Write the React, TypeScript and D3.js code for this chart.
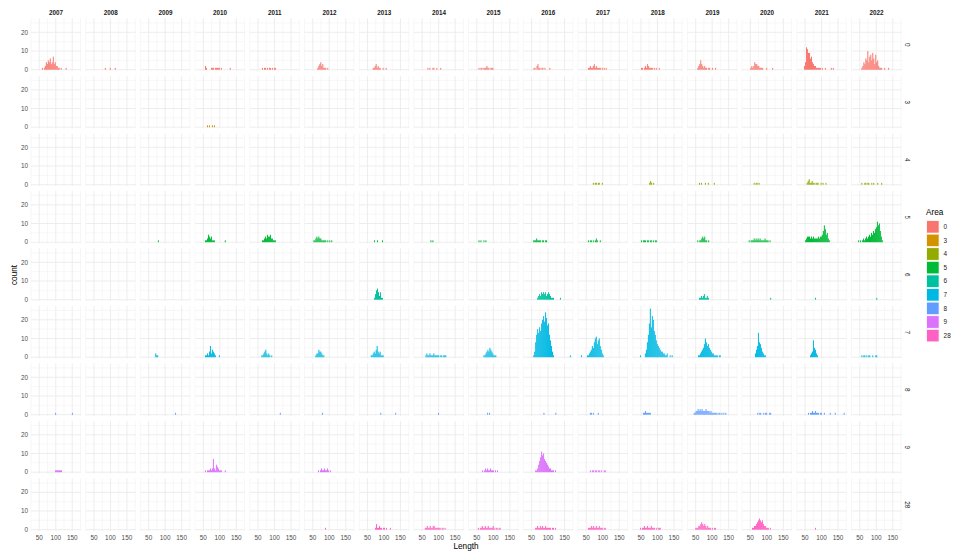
import React from 'react';
import * as d3 from 'd3';

// facet layout: years across, areas down
const years = [2007, 2008, 2009, 2010, 2011, 2012, 2013, 2014, 2015, 2016, 2017, 2018, 2019, 2020, 2021, 2022];
const areas = ['0', '3', '4', '5', '6', '7', '8', '9', '28'];
const areaColors = ['#F8766D', '#D39200', '#93AA00', '#00BA38', '#00C19F', '#00B9E3', '#619CFF', '#DB72FB', '#FF61C3'];

const xTicks = [50, 100, 150];
const xMinor = [25, 75, 125, 175];
const yTicks = [0, 10, 20];
const yMinor = [5, 15, 25];

const binWidth = 3;

// [year, first bin start (Length), counts per bin]
type PanelBins = [number, number, number[]];

const area0Bins: PanelBins[] = [
  [2007, 58, [1, 0, 1, 2, 4, 3, 5, 4, 6, 3, 4, 7, 3, 4, 2, 2, 1, 1, 0, 1, 0, 0, 0, 0, 1]],
  [2008, 83, [1, 0, 0, 0, 0, 1, 0, 0, 0, 0, 1]],
  [2010, 55, [2, 1, 0, 0, 0, 0, 1, 1, 1, 0, 1, 1, 1, 1, 1, 0, 1, 0, 0, 0, 0, 0, 0, 0, 0, 1]],
  [2011, 62, [1, 0, 1, 1, 0, 1, 0, 1, 1, 0, 1, 0, 1, 1]],
  [2012, 64, [1, 2, 3, 4, 2, 3, 1, 1, 1, 0, 1]],
  [2013, 66, [1, 1, 2, 3, 1, 2, 1, 1, 0, 0, 1, 0, 0, 1]],
  [2014, 66, [1, 0, 1, 0, 0, 1, 1, 0, 0, 1, 0, 0, 0, 1]],
  [2015, 55, [1, 0, 1, 1, 0, 1, 1, 1, 2, 1, 1, 0, 1, 1, 1]],
  [2016, 56, [1, 1, 0, 2, 3, 1, 1, 0, 1, 1, 0, 1, 0, 0, 0, 0, 1]],
  [2017, 55, [1, 1, 2, 1, 1, 2, 3, 1, 2, 1, 1, 1, 1, 0, 1, 0, 1, 0, 1]],
  [2018, 50, [1, 1, 0, 1, 2, 1, 3, 2, 1, 1, 1, 1, 0, 1, 0, 1, 0, 0, 1]],
  [2019, 55, [1, 2, 3, 5, 3, 2, 1, 2, 1, 1, 0, 1, 1, 0, 0, 1, 0, 0, 1]],
  [2020, 50, [1, 2, 1, 2, 4, 3, 3, 2, 2, 1, 1, 1, 1, 0, 0, 0, 1, 0, 0, 0, 0, 0, 1]],
  [2021, 47, [2, 4, 12, 11, 9, 9, 6, 7, 4, 3, 2, 2, 1, 1, 1, 1, 1, 0, 1, 0, 0, 1, 0, 0, 0, 0, 0, 1, 0, 1]],
  [2022, 55, [1, 2, 4, 3, 6, 5, 10, 4, 7, 8, 5, 9, 6, 3, 8, 4, 5, 2, 1, 1, 1, 0, 0, 1, 0, 0, 0, 1]],
];

const area3Bins: PanelBins[] = [
  [2010, 61, [1, 0, 1, 0, 0, 1, 0, 1]],
];

const area4Bins: PanelBins[] = [
  [2017, 70, [1, 0, 1, 1, 0, 1, 1, 0, 0, 1]],
  [2018, 75, [1, 2, 1, 0, 1]],
  [2019, 60, [1, 0, 1, 0, 0, 0, 1, 0, 0, 1, 0, 0, 0, 0, 0, 1]],
  [2020, 60, [1, 0, 1, 1, 0, 1]],
  [2021, 55, [1, 2, 3, 1, 1, 2, 1, 1, 0, 1, 1, 1, 0, 0, 1, 0, 1, 0, 0, 1]],
  [2022, 55, [1, 0, 0, 1, 1, 0, 1, 1, 0, 0, 1, 0, 1, 0, 0, 0, 1, 0, 0, 0, 1]],
];

const area5Bins: PanelBins[] = [
  [2009, 78, [1]],
  [2010, 55, [1, 1, 2, 4, 3, 2, 3, 1, 1, 1, 0, 0, 0, 0, 0, 0, 0, 0, 0, 0, 1]],
  [2011, 62, [1, 1, 2, 3, 2, 4, 3, 3, 4, 2, 2, 1, 1, 1]],
  [2012, 52, [1, 1, 2, 3, 2, 3, 2, 2, 1, 1, 1, 1, 1, 0, 1, 0, 1, 0, 1]],
  [2013, 70, [1, 0, 0, 1, 0, 0, 0, 0, 1]],
  [2014, 75, [1, 0, 1]],
  [2015, 55, [1, 0, 1, 0, 0, 1, 0, 1]],
  [2016, 55, [1, 1, 1, 2, 1, 1, 1, 1, 0, 1, 1, 0, 1, 1]],
  [2017, 55, [1, 0, 1, 1, 0, 1, 0, 1, 2, 1, 0, 0, 1]],
  [2018, 50, [1, 0, 1, 1, 1, 0, 1, 1, 0, 1, 1, 0, 1, 0, 1, 1]],
  [2019, 55, [1, 0, 1, 1, 2, 3, 2, 3, 1, 1, 0, 1]],
  [2020, 45, [1, 0, 1, 1, 1, 2, 1, 2, 1, 2, 1, 2, 1, 1, 1, 1, 2, 1, 1, 1, 0, 1]],
  [2021, 50, [1, 2, 3, 3, 3, 2, 3, 2, 3, 2, 2, 2, 2, 3, 2, 3, 3, 4, 6, 9, 7, 4, 5, 2, 1]],
  [2022, 45, [1, 0, 1, 0, 1, 2, 1, 2, 3, 2, 3, 4, 3, 5, 4, 6, 5, 7, 8, 11, 9, 10, 6, 3, 1]],
];

const area6Bins: PanelBins[] = [
  [2013, 70, [1, 3, 5, 6, 4, 2, 4, 1, 1]],
  [2016, 67, [1, 2, 3, 2, 4, 3, 4, 3, 4, 2, 3, 4, 3, 2, 1, 1, 1, 0, 0, 0, 0, 0, 0, 1]],
  [2019, 60, [1, 1, 2, 1, 2, 3, 1, 1, 2, 1]],
  [2020, 110, [1]],
  [2021, 80, [1]],
  [2022, 100, [1]],
];

const area7Bins: PanelBins[] = [
  [2009, 70, [2, 1, 1]],
  [2010, 55, [1, 1, 2, 1, 3, 6, 2, 4, 3, 2, 1, 0, 0, 0, 1]],
  [2011, 60, [1, 1, 2, 3, 4, 2, 1, 2, 1, 0, 1]],
  [2012, 58, [1, 2, 2, 4, 3, 3, 2, 1, 1]],
  [2013, 60, [1, 1, 2, 3, 2, 4, 6, 3, 2, 3, 1, 1, 1]],
  [2014, 60, [1, 2, 1, 1, 2, 1, 1, 1, 2, 1, 1, 1, 1, 1, 0, 1, 1, 0, 1, 1, 1]],
  [2015, 70, [1, 1, 2, 3, 4, 3, 5, 4, 3, 2, 1, 1, 1]],
  [2016, 55, [1, 3, 8, 12, 15, 13, 16, 14, 18, 20, 22, 19, 24, 21, 17, 18, 12, 9, 6, 3, 1, 0, 0, 0, 0, 0, 0, 0, 0, 0, 0, 0, 0, 0, 0, 0, 0, 1]],
  [2017, 34, [1, 0, 0, 0, 0, 0, 1, 1, 2, 3, 4, 6, 5, 8, 10, 11, 7, 9, 10, 6, 4, 2, 1]],
  [2018, 47, [1, 0, 0, 0, 0, 2, 4, 8, 12, 18, 26, 16, 22, 20, 14, 12, 9, 7, 6, 5, 4, 3, 3, 2, 2, 1, 1, 2, 0, 0, 1, 0, 1]],
  [2019, 57, [1, 1, 2, 3, 4, 5, 7, 10, 8, 6, 7, 5, 4, 3, 2, 2, 1, 1, 1, 1, 0, 1, 1]],
  [2020, 64, [2, 4, 6, 13, 8, 7, 5, 3, 2, 1, 1]],
  [2021, 65, [1, 2, 3, 9, 5, 4, 2, 1]],
  [2022, 55, [1, 0, 1, 1, 0, 1, 0, 1, 1, 0, 0, 1, 0, 0, 1, 1]],
];

const area8Bins: PanelBins[] = [
  [2007, 98, [1, 0, 0, 0, 0, 0, 0, 0, 0, 0, 0, 0, 0, 0, 0, 0, 0, 1]],
  [2009, 130, [1]],
  [2011, 116, [1]],
  [2012, 78, [1]],
  [2013, 89, [1, 0, 0, 0, 0, 0, 0, 0, 0, 0, 0, 0, 0, 0, 0, 1]],
  [2014, 98, [1]],
  [2015, 81, [1, 0, 1]],
  [2016, 86, [1, 0, 0, 0, 0, 0, 0, 0, 0, 0, 0, 0, 1]],
  [2017, 61, [1, 1, 0, 1, 0, 0, 0, 0, 1]],
  [2018, 56, [1, 1, 2, 1, 1, 1, 1, 1]],
  [2019, 44, [1, 1, 2, 2, 3, 2, 3, 2, 3, 2, 2, 2, 3, 2, 2, 2, 1, 2, 1, 1, 1, 1, 1, 1, 0, 1, 1, 0, 1, 0, 1, 0, 1]],
  [2020, 71, [1, 0, 1, 1, 0, 0, 1, 0, 1, 1, 0, 0, 1, 1]],
  [2021, 59, [1, 0, 1, 1, 2, 1, 1, 2, 1, 1, 1, 0, 1, 1, 0, 0, 1, 0, 0, 0, 0, 0, 1, 0, 0, 0, 0, 1, 0, 0, 0, 0, 0, 0, 0, 0, 1]],
];

const area9Bins: PanelBins[] = [
  [2007, 98, [1, 1, 1, 1, 1, 1, 1]],
  [2010, 55, [1, 0, 1, 1, 1, 2, 1, 2, 7, 2, 1, 4, 3, 2, 1, 1, 1, 0, 0, 0, 1]],
  [2012, 66, [1, 0, 1, 2, 1, 1, 2, 1, 1, 2, 1, 0, 1]],
  [2015, 66, [1, 0, 1, 2, 1, 2, 1, 1, 2, 1, 1, 1, 0, 1, 0, 1]],
  [2016, 61, [1, 1, 2, 4, 6, 8, 11, 9, 10, 7, 6, 5, 4, 3, 2, 2, 1, 1, 1, 0, 1]],
  [2017, 61, [1, 0, 1, 1, 0, 1, 1, 0, 1, 1, 0, 1, 0, 0, 1, 1]],
];

const area28Bins: PanelBins[] = [
  [2012, 87, [1]],
  [2013, 73, [1, 3, 1, 1, 2, 1, 1, 0, 1, 1, 0, 1, 0, 0, 0, 1]],
  [2014, 58, [1, 1, 2, 1, 1, 2, 1, 1, 2, 2, 1, 1, 1, 1, 1, 1, 0, 1, 1, 0, 1]],
  [2015, 53, [1, 0, 1, 1, 2, 1, 1, 2, 1, 1, 2, 1, 1, 1, 1, 2, 1, 0, 1, 1, 0, 1, 1]],
  [2016, 61, [1, 1, 2, 1, 1, 2, 1, 2, 1, 1, 2, 1, 1, 1, 1, 1, 0, 1, 1, 0, 1]],
  [2017, 55, [1, 1, 1, 2, 1, 2, 1, 1, 2, 1, 1, 2, 1, 1, 1, 0, 1, 1]],
  [2018, 47, [1, 0, 1, 1, 2, 1, 1, 2, 1, 1, 1, 2, 1, 1, 1, 0, 1, 0, 1, 1, 1]],
  [2019, 49, [1, 1, 1, 2, 2, 3, 4, 3, 2, 3, 2, 1, 2, 1, 1, 1, 0, 1, 0, 1, 1]],
  [2020, 55, [1, 1, 2, 2, 3, 4, 5, 6, 5, 4, 5, 3, 2, 2, 1, 1, 1, 0, 1]],
  [2021, 80, [1]],
];

const binsByArea = [area0Bins, area3Bins, area4Bins, area5Bins, area6Bins, area7Bins, area8Bins, area9Bins, area28Bins];

const font = '"Liberation Sans", Arial, sans-serif';

export default function App() {
  const col = d3.scaleBand<number>().domain(years).range([31, 901.5]).paddingInner(0.086);
  const row = d3.scaleBand<string>().domain(areas).range([18.3, 531]).paddingInner(0.083);
  const pw = col.bandwidth();
  const ph = row.bandwidth();
  const x = d3.scaleLinear().domain([25, 176.5]).range([0, pw]);
  const y = d3.scaleLinear().domain([-0.7, 27.5]).range([ph, 0]);
  const color = d3.scaleOrdinal<string, string>().domain(areas).range(areaColors);

  const legendTop = 220;
  const keySize = 13.6;

  return (
    <svg width={955} height={553} style={{ position: 'absolute', left: 0, top: 0, background: '#fff' }} fontFamily={font}>
      {/* panels: grid */}
      {areas.map((area) =>
        years.map((year) => (
          <g key={`${area}-${year}`} transform={`translate(${col(year)},${row(area)})`}>
            {yMinor.map((v) => (
              <line key={`ym${v}`} x1={0} x2={pw} y1={y(v)} y2={y(v)} stroke="#f2f2f2" strokeWidth={0.6} />
            ))}
            {xMinor.map((v) => (
              <line key={`xm${v}`} x1={x(v)} x2={x(v)} y1={0} y2={ph} stroke="#f2f2f2" strokeWidth={0.6} />
            ))}
            {yTicks.map((v) => (
              <line key={`y${v}`} x1={0} x2={pw} y1={y(v)} y2={y(v)} stroke="#ebebeb" strokeWidth={0.9} />
            ))}
            {xTicks.map((v) => (
              <line key={`x${v}`} x1={x(v)} x2={x(v)} y1={0} y2={ph} stroke="#ebebeb" strokeWidth={0.9} />
            ))}
          </g>
        ))
      )}

      {/* histogram bars */}
      {binsByArea.map((list, ai) =>
        list.map(([year, start, counts]) => (
          <g key={`b${ai}-${year}`} transform={`translate(${col(year)},${row(areas[ai])})`}>
            {counts.map((c, i) => {
              if (c === 0) return null;
              const x0 = x(start + i * binWidth);
              const x1 = x(start + (i + 1) * binWidth);
              return (
                <rect key={i} x={x0} width={x1 - x0} y={y(c)} height={y(0) - y(c)} fill={color(areas[ai])} />
              );
            })}
          </g>
        ))
      )}

      {/* top strips */}
      {years.map((year) => (
        <text key={`s${year}`} x={(col(year) as number) + pw / 2} y={14.5} textAnchor="middle" fontSize={6.3} fontWeight="bold" fill="#1a1a1a">
          {year}
        </text>
      ))}

      {/* right strips */}
      {areas.map((area) => (
        <text
          key={`r${area}`}
          transform={`translate(${905},${(row(area) as number) + ph / 2}) rotate(90)`}
          textAnchor="middle"
          fontSize={6.3}
          fill="#1a1a1a"
        >
          {area}
        </text>
      ))}

      {/* y tick labels */}
      {areas.map((area) =>
        yTicks.map((v) => (
          <text key={`yt${area}${v}`} x={28} y={(row(area) as number) + y(v) + 2.2} textAnchor="end" fontSize={6.4} fill="#4d4d4d">
            {v}
          </text>
        ))
      )}

      {/* x tick labels */}
      {years.map((year) =>
        xTicks.map((v) => (
          <text key={`xt${year}${v}`} x={(col(year) as number) + x(v)} y={539.5} textAnchor="middle" fontSize={6.4} fill="#4d4d4d">
            {v}
          </text>
        ))
      )}

      {/* axis titles */}
      <text x={466} y={549} textAnchor="middle" fontSize={8.2} fill="#000">Length</text>
      <text transform="translate(17,275) rotate(-90)" textAnchor="middle" fontSize={8.2} fill="#000">count</text>

      {/* legend */}
      <text x={926} y={214.5} fontSize={8.2} fill="#000">Area</text>
      {areas.map((area, i) => (
        <g key={`lg${area}`} transform={`translate(926,${legendTop + i * keySize})`}>
          <rect x={0.5} y={0.5} width={keySize - 1} height={keySize - 1} fill={color(area)} stroke="#fff" strokeWidth={0.8} />
          <text x={keySize + 4} y={keySize / 2 + 2.2} fontSize={6.4} fill="#1a1a1a">{area}</text>
        </g>
      ))}
    </svg>
  );
}
